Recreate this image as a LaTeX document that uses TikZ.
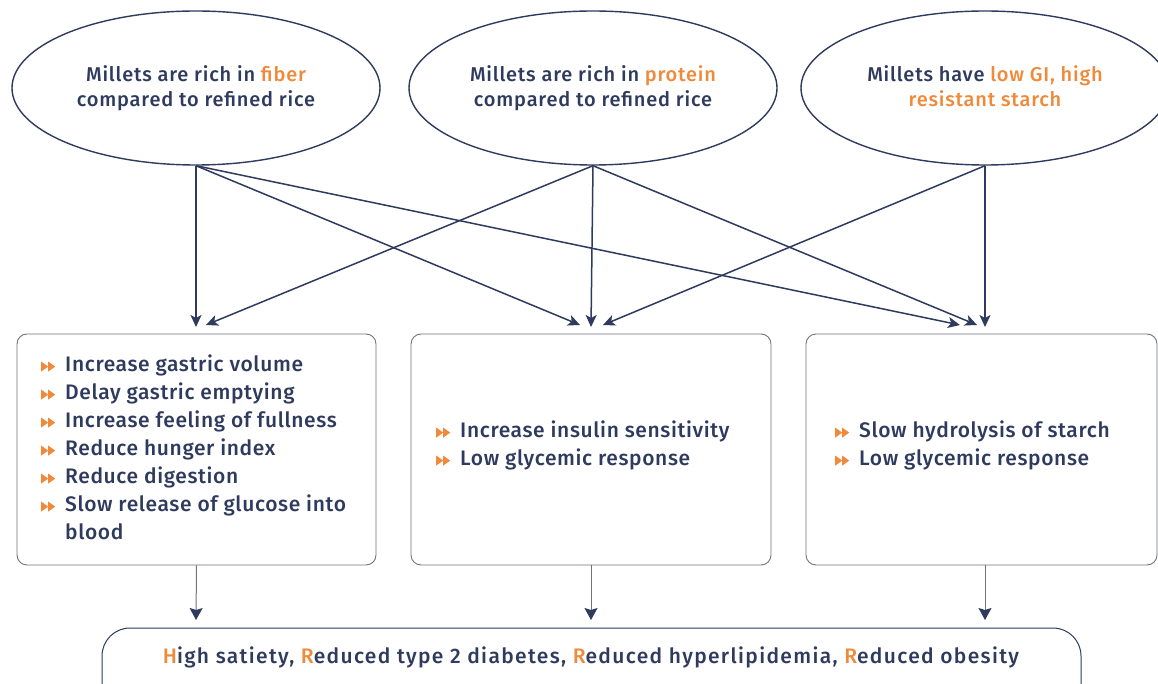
\documentclass[tikz,border=0pt]{standalone}
\usepackage{fontspec}
\setmainfont{Fira Sans}[UprightFont=* Medium, BoldFont=* SemiBold]
\usetikzlibrary{shapes.geometric,arrows.meta}
\definecolor{navy}{HTML}{2F3B5E}
\definecolor{org}{HTML}{F08A3A}
\definecolor{edgegray}{HTML}{70747F}
\newcommand{\ob}{\tikz[baseline=0pt]{\fill[org] (0pt,0pt)--(0pt,10pt)--(7pt,5pt)--cycle (7pt,0pt)--(7pt,10pt)--(14pt,5pt)--cycle;}}
\newcommand{\hl}[1]{\textcolor{org}{#1}}
\tikzset{
  ell/.style={ellipse, draw=navy, line width=1.4pt, minimum width=368pt, minimum height=154pt, inner sep=0pt,
    text=navy, align=center, font=\fontsize{20}{25}\selectfont\addfontfeatures{LetterSpace=4}},
  boxx/.style={draw=edgegray, line width=0.9pt, rounded corners=10pt, minimum height=231pt, inner sep=0pt},
  lst/.style={anchor=west, text=navy, inner sep=0pt, font=\fontsize{21}{28}\selectfont\addfontfeatures{LetterSpace=3}},
  conn/.style={navy, line width=1.5pt, -{Stealth[length=12pt,width=11pt,inset=3pt]}},
  down/.style={edgegray, line width=1pt, -{Stealth[length=12pt,width=13pt,inset=2pt,navy]}},
}
\begin{document}
\begin{tikzpicture}[x=1pt,y=-1pt]
\useasboundingbox (0,0) rectangle (1158,684);
\clip (0,0) rectangle (1158,684);
\fill[white] (0,0) rectangle (1158,684);
% ellipses
\node[ell] (e1) at (196,88) {Millets are rich in \hl{fiber}\\compared to refined rice};
\node[ell] (e2) at (593,88) {Millets are rich in \hl{protein}\\compared to refined rice};
\node[ell] (e3) at (985,88) {Millets have \hl{low GI, high}\\\hl{resistant starch}\vphantom{p}};
% boxes
\node[boxx, minimum width=359pt] (b1) at (196.5,449.5) {};
\node[boxx, minimum width=360pt] (b2) at (591,449.5) {};
\node[boxx, minimum width=351pt] (b3) at (981.5,449.5) {};
\node[lst] (l1) at (41,450) {\begin{tabular}{@{}l@{\hspace{10pt}}l@{}}
\ob & Increase gastric volume\\
\ob & Delay gastric emptying\\
\ob & Increase feeling of fullness\\
\ob & Reduce hunger index\\
\ob & Reduce digestion\\
\ob & Slow release of glucose into\\
 & blood\end{tabular}};
\node[lst] (l2) at (436,446) {\begin{tabular}{@{}l@{\hspace{10pt}}l@{}}
\ob & Increase insulin sensitivity\\
\ob & Low glycemic response\end{tabular}};
\node[lst] (l3) at (835,446) {\begin{tabular}{@{}l@{\hspace{10pt}}l@{}}
\ob & Slow hydrolysis of starch\\
\ob & Low glycemic response\end{tabular}};
% outcome
\node[draw=navy, line width=1pt, rounded corners=28pt, minimum width=979pt, minimum height=84pt, inner sep=0pt] (out) at (591.5,670) {};
\node[text=navy, font=\fontsize{21}{24}\selectfont\addfontfeatures{LetterSpace=6.4}] (outtext) at (591,657) {\hl{H}igh satiety, \hl{R}educed type 2 diabetes, \hl{R}educed hyperlipidemia, \hl{R}educed obesity};
% arrow targets
\coordinate (t11) at (196,327);
\coordinate (t12) at (206,325);
\coordinate (t21) at (580,325);
\coordinate (t22) at (591,327);
\coordinate (t23) at (603,325);
\coordinate (t31) at (960,325);
\coordinate (t32) at (977,325);
\coordinate (t33) at (985,327);
\draw[conn] (e1.south) -- (t11);
\draw[conn] (e1.south) -- (t21);
\draw[conn] (e1.south) -- (t31);
\draw[conn] (e2.south) -- (t12);
\draw[conn] (e2.south) -- (t22);
\draw[conn] (e2.south) -- (t32);
\draw[conn] (e3.south) -- (t23);
\draw[conn] (e3.south) -- (t33);
% bottom arrows
\coordinate (o1) at (196,620);
\coordinate (o2) at (591,620);
\coordinate (o3) at (985,620);
\draw[down] (b1.south) -- (o1);
\draw[down] (b2.south) -- (o2);
\draw[down] (b3.south -| o3) -- (o3);
\end{tikzpicture}
\end{document}
